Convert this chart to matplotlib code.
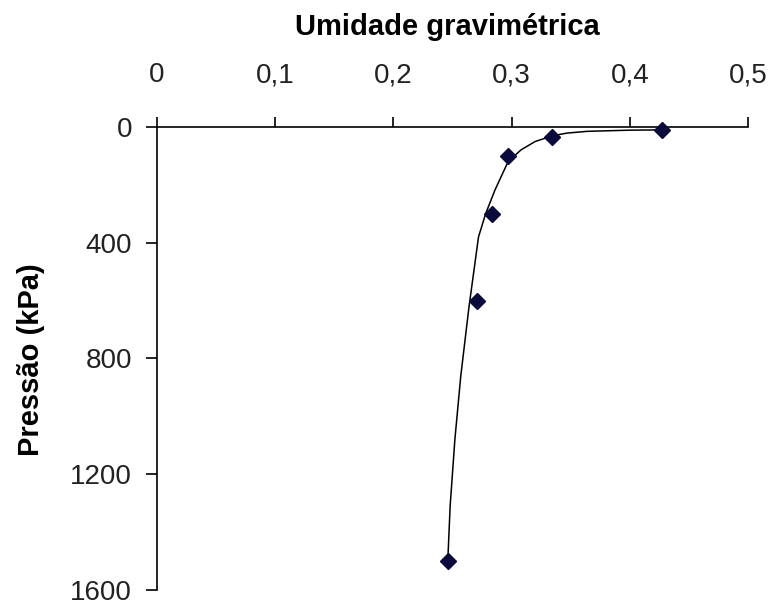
import matplotlib
matplotlib.use("Agg")
import matplotlib.pyplot as plt

plt.rcParams.update({
    "font.family": ["Liberation Sans", "DejaVu Sans"],
    "figure.facecolor": "white",
    "axes.facecolor": "white",
})

# pontos medidos (umidade gravimétrica, pressão kPa)
umidade = [0.246, 0.271, 0.283, 0.297, 0.334, 0.427]
pressao = [1500, 600, 300, 100, 33, 10]

# curva ajustada
curva_umidade = [0.246, 0.248, 0.252, 0.257, 0.264, 0.268, 0.272, 0.278,
                 0.286, 0.297, 0.308, 0.320, 0.335, 0.347, 0.364, 0.400, 0.427]
curva_pressao = [1500, 1310, 1080, 860, 620, 500, 380, 300,
                 217, 120, 79, 50, 30, 21, 15, 11, 10]

x_ticks = [0, 0.1, 0.2, 0.3, 0.4, 0.5]
x_labels = ["0", "0,1", "0,2", "0,3", "0,4", "0,5"]
y_ticks = [0, 400, 800, 1200, 1600]
y_labels = ["0", "400", "800", "1200", "1600"]

fig = plt.figure(figsize=(7.72, 6.01), dpi=100)
ax = fig.add_axes([0.2034, 0.0183, 0.7655, 0.7704])

ax.plot(curva_umidade, curva_pressao, color="black", linewidth=1.1, zorder=2)
ax.plot(umidade, pressao, linestyle="none", marker="D", markersize=8,
        color="#0b0b3b", zorder=3, clip_on=False)

ax.set_xlim(0, 0.5)
ax.set_ylim(1600, 0)

for side in ("bottom", "right"):
    ax.spines[side].set_visible(False)
for side in ("top", "left"):
    ax.spines[side].set_linewidth(1.2)

ax.xaxis.tick_top()
ax.set_xticks(x_ticks)
ax.set_xticklabels(x_labels)
ax.set_yticks(y_ticks)
ax.set_yticklabels(y_labels)
ax.tick_params(axis="x", direction="out", length=7, width=1.2, pad=21,
               labelsize=20, labelcolor="#222222")
ax.tick_params(axis="y", direction="out", length=8, width=1.2, pad=10,
               labelsize=20, labelcolor="#222222")

fig.text(0.579, 0.9418, "Umidade gravimétrica", ha="center", va="baseline",
         fontsize=21, fontweight="bold")
fig.text(0.040, 0.401, "Pressão (kPa)", ha="center", va="center",
         rotation=90, fontsize=21, fontweight="bold")

fig.savefig("out.png", dpi=100)
